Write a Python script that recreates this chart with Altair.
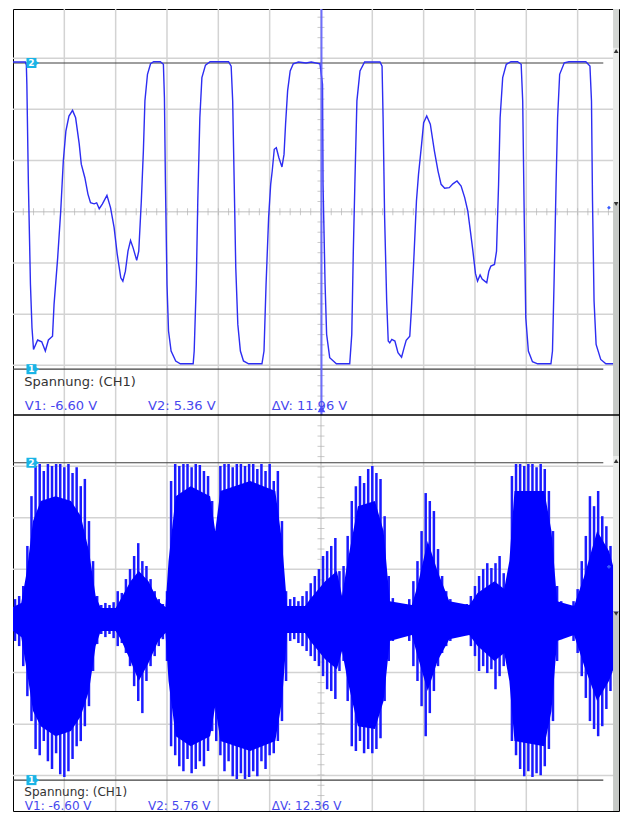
import altair as alt
import pandas as pd

FONT = "DejaVu Sans"
T_MAX = 11.806  # visible divisions across the plot (51.5 px per division)

# ---------------- Raster (divisions / volts) ----------------
GRID_T = [1, 2, 3, 4, 5, 6, 7, 8, 9, 10, 11]
TOP_GRID_V = [5.55, 3.55, 1.55, -0.45, -2.45, -4.45, -6.45]
BOT_GRID_V = [5.62, 3.62, 1.61, -0.40, -2.41, -4.42, -6.42]
TOP_CENTER_V = -0.45
BOT_CENTER_V = -0.40
CENTER_T = 6

# ---------------- Cursor readouts ----------------
TOP_V1, TOP_V2, TOP_DV = -6.60, 5.36, 11.96
BOT_V1, BOT_V2, BOT_DV = -6.60, 5.76, 12.36
CURSOR_T = 6.01

# ---------------- Upper trace (CH1) ----------------
TOP_T = [0.00, 0.24, 0.26, 0.27, 0.30, 0.34, 0.37, 0.40, 0.48, 0.56,
         0.63, 0.69, 0.77, 0.80, 0.87, 0.93, 0.98, 1.03, 1.09, 1.16,
         1.22, 1.29, 1.33, 1.40, 1.46, 1.51, 1.58, 1.63, 1.68, 1.74,
         1.83, 1.90, 1.97, 2.03, 2.10, 2.14, 2.19, 2.24, 2.29, 2.34,
         2.41, 2.45, 2.50, 2.54, 2.57, 2.62, 2.68, 2.74, 2.87, 2.93,
         2.95, 2.97, 3.00, 3.03, 3.08, 3.17, 3.26, 3.51, 3.53, 3.57,
         3.60, 3.64, 3.68, 3.75, 3.84, 4.20, 4.25, 4.28, 4.31, 4.34,
         4.38, 4.43, 4.49, 4.59, 4.85, 4.89, 4.93, 4.98, 5.02, 5.05,
         5.09, 5.13, 5.18, 5.24, 5.28, 5.31, 5.35, 5.40, 5.46, 5.56,
         5.71, 5.81, 5.98, 6.03, 6.04, 6.08, 6.11, 6.17, 6.30, 6.56,
         6.60, 6.63, 6.66, 6.70, 6.76, 6.85, 7.15, 7.19, 7.21, 7.24,
         7.28, 7.31, 7.34, 7.38, 7.44, 7.50, 7.57, 7.62, 7.66, 7.73,
         7.76, 7.81, 7.86, 7.90, 7.96, 8.00, 8.06, 8.13, 8.21, 8.28,
         8.34, 8.41, 8.50, 8.57, 8.65, 8.73, 8.80, 8.86, 8.91, 8.96,
         9.01, 9.05, 9.10, 9.14, 9.19, 9.23, 9.27, 9.31, 9.38, 9.42,
         9.46, 9.49, 9.54, 9.61, 9.70, 9.83, 9.90, 9.93, 9.96, 9.99,
         10.04, 10.12, 10.22, 10.48, 10.51, 10.54, 10.58, 10.61, 10.65, 10.74,
         10.83, 11.16, 11.24, 11.27, 11.29, 11.32, 11.36, 11.45, 11.55, 11.77,
         11.82, 11.83]
TOP_V = [5.40, 5.40, 5.28, 4.53, 0.62, -3.29, -4.98, -5.83, -5.46, -5.53,
         -5.89, -5.46, -5.31, -4.06, -2.26, -0.42, 1.53, 2.70, 3.29, 3.51,
         3.22, 2.20, 1.41, 0.88, 0.24, -0.10, -0.14, -0.10, -0.33, -0.15,
         0.19, -0.29, -1.07, -2.10, -3.03, -3.16, -2.77, -1.99, -1.57, -1.86,
         -2.35, -1.99, -0.03, 1.92, 3.88, 4.92, 5.33, 5.41, 5.41, 5.31,
         4.01, 0.62, -3.29, -5.11, -5.89, -6.28, -6.39, -6.39, -5.89, -3.29,
         -0.03, 3.22, 4.79, 5.28, 5.41, 5.41, 5.24, 3.88, 0.62, -2.64,
         -4.85, -5.89, -6.28, -6.39, -6.39, -5.89, -3.29, -0.68, 0.62, 1.14,
         1.99, 2.05, 1.66, 1.30, 1.79, 2.97, 4.27, 5.05, 5.33, 5.40,
         5.36, 5.40, 5.33, 4.53, 0.62, -3.29, -5.24, -6.15, -6.39, -6.39,
         -5.24, -1.99, 0.62, 3.88, 5.05, 5.40, 5.40, 5.24, 3.22, -0.68,
         -3.94, -5.50, -5.57, -5.44, -5.50, -5.96, -6.13, -5.76, -5.47, -5.31,
         -4.33, -2.25, -0.03, 1.01, 2.18, 3.03, 3.29, 2.97, 1.92, 1.14,
         0.62, 0.47, 0.49, 0.64, 0.75, 0.55, 0.10, -0.42, -1.20, -1.99,
         -2.87, -3.16, -2.92, -3.08, -3.16, -3.22, -2.77, -2.57, -2.51, -1.99,
         0.62, 3.22, 4.79, 5.31, 5.41, 5.41, 5.31, 3.88, -0.68, -4.59,
         -5.89, -6.31, -6.39, -6.39, -5.89, -3.29, 0.62, 3.22, 4.92, 5.37,
         5.41, 5.41, 5.24, 3.88, -0.03, -3.94, -5.63, -6.22, -6.39, -6.39,
         -6.02, -5.70]

# ---------------- Lower trace (CH1): peak samples ----------------
SPIKE_T = [0.04, 0.12, 0.20, 0.28, 0.36, 0.44, 0.52, 0.60, 0.68, 0.76,
           0.84, 0.92, 1.00, 1.08, 1.16, 1.24, 1.32, 1.40, 1.48, 1.56,
           1.64, 1.72, 1.80, 1.88, 1.96, 2.04, 2.12, 2.20, 2.28, 2.36,
           2.44, 2.52, 2.60, 2.68, 2.76, 2.84, 2.92, 3.00, 3.08, 3.16,
           3.24, 3.32, 3.40, 3.48, 3.56, 3.64, 3.72, 3.80, 3.88, 3.96,
           4.04, 4.12, 4.20, 4.28, 4.36, 4.44, 4.52, 4.60, 4.68, 4.76,
           4.84, 4.92, 5.00, 5.08, 5.16, 5.24, 5.32, 5.40, 5.48, 5.56,
           5.64, 5.72, 5.80, 5.88, 5.96, 6.04, 6.12, 6.20, 6.28, 6.36,
           6.44, 6.52, 6.60, 6.68, 6.76, 6.84, 6.92, 7.00, 7.08, 7.16,
           7.24, 7.32, 7.40, 7.48, 7.56, 7.64, 7.72, 7.80, 7.88, 7.96,
           8.04, 8.12, 8.20, 8.28, 8.36, 8.44, 8.52, 8.60, 8.68, 8.76,
           8.84, 8.92, 9.00, 9.08, 9.16, 9.24, 9.32, 9.40, 9.48, 9.56,
           9.64, 9.72, 9.80, 9.88, 9.96, 10.04, 10.12, 10.20, 10.28, 10.36,
           10.44, 10.52, 10.60, 10.68, 10.76, 10.84, 10.92, 11.00, 11.08, 11.16,
           11.24, 11.32, 11.40, 11.48, 11.56, 11.64, 11.72, 11.80]
SPIKE_TOP = [0.45, 0.57, 0.96, 2.52, 4.46, 5.63, 5.71, 5.44, 5.71, 5.63,
             5.71, 5.71, 5.59, 5.71, 5.36, 5.59, 4.85, 5.13, 3.49, 1.93,
             0.57, 0.22, 0.30, 0.22, 0.33, 0.76, 0.69, 1.23, 1.62, 2.13,
             2.63, 1.93, 1.74, 1.23, 0.76, 0.45, 0.26, 0.76, 5.05, 5.71,
             5.63, 5.71, 5.71, 5.59, 5.71, 5.67, 5.44, 5.24, 4.27, 2.52,
             5.63, 5.71, 5.71, 5.59, 5.71, 5.71, 5.63, 5.71, 5.71, 5.52,
             5.71, 5.44, 5.71, 5.05, 5.44, 3.49, 0.76, 0.45, 0.53, 0.37,
             0.57, 0.76, 1.07, 1.35, 1.62, 2.13, 2.32, 2.52, 2.83, 1.54,
             1.74, 2.91, 4.27, 4.85, 5.24, 4.97, 5.52, 5.63, 5.36, 5.13,
             3.68, 1.35, 0.49, 0.30, 0.22, 0.26, 0.45, 1.15, 1.93, 3.10,
             4.58, 4.27, 3.88, 2.40, 1.35, 0.76, 0.45, 0.30, 0.22, 0.18,
             0.26, 0.57, 0.96, 1.35, 1.62, 1.85, 1.66, 1.85, 2.13, 1.46,
             0.76, 5.24, 5.71, 5.71, 5.63, 5.71, 5.71, 5.59, 5.71, 5.52,
             4.66, 3.10, 0.96, 0.37, 0.26, 0.22, 0.37, 0.84, 1.93, 2.91,
             4.46, 4.07, 4.66, 3.68, 3.29, 2.52, 1.93, 0.96]
SPIKE_BOT = [-1.18, -1.38, -2.16, -3.33, -4.30, -5.39, -5.63, -5.08, -5.86, -6.17,
             -5.55, -6.37, -6.48, -6.25, -5.78, -5.28, -5.08, -4.50, -3.72, -2.35,
             -1.30, -0.91, -1.03, -0.91, -1.07, -1.38, -1.26, -1.65, -2.16, -2.94,
             -3.52, -3.99, -2.74, -2.16, -1.77, -1.38, -1.11, -1.96, -5.28, -5.63,
             -6.06, -6.25, -5.78, -6.33, -6.17, -5.86, -6.06, -5.47, -4.69, -5.08,
             -5.63, -6.25, -5.86, -6.45, -6.56, -6.33, -6.56, -6.48, -6.25, -6.45,
             -5.86, -6.17, -5.63, -5.55, -5.08, -4.30, -2.74, -1.18, -1.11, -1.26,
             -1.38, -1.57, -1.77, -1.96, -2.16, -2.55, -3.06, -3.13, -3.44, -2.35,
             -1.96, -3.52, -5.28, -5.47, -5.08, -5.55, -5.39, -5.55, -5.39, -4.97,
             -3.52, -1.96, -1.18, -1.03, -0.91, -0.99, -1.18, -2.16, -2.74, -3.72,
             -4.89, -3.99, -3.13, -2.16, -1.65, -1.38, -1.18, -1.03, -0.91, -0.87,
             -0.95, -1.38, -1.77, -2.35, -2.16, -2.43, -2.28, -3.06, -2.55, -2.16,
             -1.77, -5.08, -5.63, -6.17, -6.45, -6.25, -6.48, -6.33, -6.41, -6.06,
             -5.39, -4.30, -1.96, -1.11, -0.95, -0.91, -1.18, -1.65, -2.55, -3.40,
             -4.30, -4.61, -4.89, -4.50, -3.83, -3.13, -2.94, -1.96]

# ---------------- Lower trace: dense core envelope ----------------
CORE_T = [0.00, 0.16, 0.27, 0.39, 0.54, 0.83, 1.13, 1.32, 1.48, 1.61,
          1.71, 2.00, 2.10, 2.29, 2.45, 2.64, 2.83, 2.97, 3.03, 3.17,
          3.46, 3.84, 3.94, 4.04, 4.62, 5.11, 5.24, 5.34, 5.69, 5.79,
          6.08, 6.31, 6.41, 6.52, 6.72, 7.05, 7.22, 7.34, 7.77, 7.88,
          8.08, 8.27, 8.50, 8.89, 9.05, 9.38, 9.57, 9.67, 9.77, 10.35,
          10.49, 10.60, 10.93, 11.13, 11.38, 11.61, 11.83]
CORE_TOP = [0.14, 0.30, 1.54, 3.49, 4.27, 4.46, 4.27, 3.69, 2.32, 0.57,
            0.10, 0.10, 0.45, 1.15, 1.54, 1.15, 0.37, 0.14, 1.93, 4.46,
            4.85, 4.46, 3.10, 4.66, 5.05, 4.66, 2.71, 0.18, 0.18, 0.45,
            1.15, 1.54, 0.57, 1.93, 4.07, 4.27, 3.10, 0.37, 0.22, 0.96,
            2.71, 1.54, 0.37, 0.22, 0.69, 1.15, 0.84, 1.93, 4.66, 4.66,
            3.10, 0.37, 0.18, 1.35, 3.10, 2.32, 0.76]
CORE_BOT = [-0.79, -1.03, -2.35, -3.91, -4.50, -4.89, -4.69, -4.11, -3.13, -1.38,
            -0.79, -0.79, -1.11, -1.96, -2.74, -2.04, -1.18, -0.87, -2.74, -4.89,
            -5.28, -4.89, -3.72, -5.08, -5.47, -5.08, -3.52, -0.87, -0.87, -1.18,
            -1.89, -2.28, -1.57, -2.74, -4.50, -4.61, -3.52, -1.18, -0.95, -1.77,
            -3.13, -1.96, -1.11, -0.95, -1.38, -1.96, -1.65, -2.74, -5.08, -5.28,
            -3.91, -1.18, -0.95, -2.16, -3.52, -2.74, -1.57]

# ---------------- styling ----------------
GRID_C = "#d3d3d3"
TICK_C = "#b4b4b4"
TRACE_C = "#2d2df2"
TEXT_BLUE = "#4747ee"
TAG_C = "#19b4e6"

SCROLL_T0 = 11.69   # right-hand scroll strip
ARROW_T = 11.75
TRIG_T = 11.61

PLOT_W = 608
TOP_H = 406
TOTAL_H = 804

TOP_DOM = [-8.39, 7.47]
BOT_DOM = [-7.88, 7.62]
X = alt.Scale(domain=[0, T_MAX], nice=False, zero=False)
TOP_Y = alt.Scale(domain=TOP_DOM, range=[TOP_H, 0], nice=False, zero=False)
BOT_Y = alt.Scale(domain=BOT_DOM, range=[TOTAL_H, TOP_H], nice=False, zero=False)

MINOR_T = [round(0.2 * i, 2) for i in range(1, 59)]


def xq(f):
    return alt.X(f, type="quantitative", scale=X, axis=None)


def yq(f, ys):
    return alt.Y(f, type="quantitative", scale=ys, axis=None)


def frame_layers(ys, dom, grid_v, center_v, v1, v2):
    layers = []
    layers.append(alt.Chart(pd.DataFrame({"v": grid_v})).mark_rule(
        color=GRID_C, strokeWidth=1.5).encode(y=yq("v", ys)))
    layers.append(alt.Chart(pd.DataFrame({"t": MINOR_T, "v": [center_v] * len(MINOR_T)})).mark_tick(
        orient="vertical", size=7, thickness=1, color=TICK_C, clip=True).encode(x=xq("t"), y=yq("v", ys)))
    vt = [round(center_v + 0.4 * k, 2) for k in range(-20, 21)
          if k != 0 and dom[0] + 0.2 < center_v + 0.4 * k < dom[1] - 0.2]
    layers.append(alt.Chart(pd.DataFrame({"t": [CENTER_T] * len(vt), "v": vt})).mark_tick(
        orient="horizontal", size=7, thickness=1, color=TICK_C, clip=True).encode(x=xq("t"), y=yq("v", ys)))
    layers.append(alt.Chart(pd.DataFrame({"t0": [0, 0], "t1": [11.5, 11.5], "v": [v2, v1]})).mark_rule(
        color="#3f3f3f", strokeWidth=1.2).encode(x=xq("t0"), x2="t1", y=yq("v", ys)))
    return layers


def overlay_layers(ys, v1, v2, texts, font_size, scroll_v, arrows_v):
    layers = []
    tags = pd.DataFrame({"t": [0.36, 0.36], "ta": [0.46, 0.46], "v": [v2, v1], "lab": ["2", "1"]})
    layers.append(alt.Chart(tags).mark_point(shape="triangle-right", filled=True, size=45,
                                             color=TAG_C, opacity=1).encode(x=xq("ta"), y=yq("v", ys)))
    layers.append(alt.Chart(tags).mark_point(shape="square", filled=True, size=100,
                                             color=TAG_C, opacity=1).encode(x=xq("t"), y=yq("v", ys)))
    layers.append(alt.Chart(tags).mark_text(color="white", fontSize=9, fontWeight="bold", font=FONT,
                                            align="center", baseline="middle").encode(
        x=xq("t"), y=yq("v", ys), text="lab:N"))
    tx = pd.DataFrame(texts, columns=["t", "v", "s", "c"])
    layers.append(alt.Chart(tx).mark_text(fontSize=font_size, font=FONT, align="left",
                                          baseline="alphabetic").encode(
        x=xq("t"), y=yq("v", ys), text="s:N", color=alt.Color("c:N", scale=None)))
    sc = pd.DataFrame(scroll_v, columns=["v0", "v1", "c"])
    sc["t0"] = SCROLL_T0
    sc["t1"] = T_MAX
    layers.append(alt.Chart(sc).mark_rect(clip=True).encode(
        x=xq("t0"), x2="t1", y=yq("v0", ys), y2="v1", color=alt.Color("c:N", scale=None)))
    ar = pd.DataFrame(arrows_v, columns=["v", "shape"])
    ar["t"] = ARROW_T
    layers.append(alt.Chart(ar).mark_point(filled=True, size=22, color="#333333", opacity=1).encode(
        x=xq("t"), y=yq("v", ys), shape=alt.Shape("shape:N", scale=None)))
    return layers


# ---------------- upper panel ----------------
top_layers = [alt.Chart(pd.DataFrame({"t": GRID_T})).mark_rule(
    color=GRID_C, strokeWidth=1.5).encode(x=xq("t"))]
top_layers += frame_layers(TOP_Y, TOP_DOM, TOP_GRID_V, TOP_CENTER_V, TOP_V1, TOP_V2)
top_df = pd.DataFrame({"t": TOP_T, "v": TOP_V, "i": range(len(TOP_T))})
top_layers.append(alt.Chart(top_df).mark_line(color=TRACE_C, strokeWidth=1.4, clip=True).encode(
    x=xq("t"), y=yq("v", TOP_Y), order="i:Q"))
top_layers.append(alt.Chart(pd.DataFrame({"t": [CURSOR_T], "v0": [TOP_DOM[1]], "v1": [TOP_DOM[0]]})).mark_rule(
    color="#5a5aff", strokeWidth=2, opacity=0.85).encode(x=xq("t"), y=yq("v0", TOP_Y), y2="v1"))
top_layers.append(alt.Chart(pd.DataFrame({"t": [CURSOR_T], "v": [-8.15]})).mark_point(
    shape="triangle-up", filled=True, size=60, color="#4d4dff", opacity=1).encode(x=xq("t"), y=yq("v", TOP_Y)))
top_layers.append(alt.Chart(pd.DataFrame({"t": [TRIG_T], "v": [-0.29]})).mark_point(
    shape="diamond", filled=True, size=14, color="#3a5cff", opacity=1).encode(x=xq("t"), y=yq("v", TOP_Y)))
top_texts = [
    (0.22, -7.26, "Spannung: (CH1)", "#333333"),
    (0.23, -8.20, "V1: -6.60 V", TEXT_BLUE),
    (2.63, -8.20, "V2: 5.36 V", TEXT_BLUE),
    (5.04, -8.20, "ΔV: 11.96 V", TEXT_BLUE),
]
top_scroll = [(7.47, 5.95, "#d3d6d3"), (5.95, -0.11, "#e9ebe9"), (-0.11, -8.39, "#c6c9c6")]
top_arrows = [(5.83, "triangle-up"), (-0.15, "triangle-down")]
top_layers += overlay_layers(TOP_Y, TOP_V1, TOP_V2, top_texts, 13, top_scroll, top_arrows)
top = alt.layer(*top_layers)

# ---------------- lower panel ----------------
bot_layers = frame_layers(BOT_Y, BOT_DOM, BOT_GRID_V, BOT_CENTER_V, BOT_V1, BOT_V2)
core_df = pd.DataFrame({"t": CORE_T, "hi": CORE_TOP, "lo": CORE_BOT})
spk_df = pd.DataFrame({"t": SPIKE_T, "hi": SPIKE_TOP, "lo": SPIKE_BOT})
bot_layers.append(alt.Chart(spk_df).mark_rule(color="#1a1aff", strokeWidth=2.5, clip=True).encode(
    x=xq("t"), y=yq("hi", BOT_Y), y2="lo"))
bot_layers.append(alt.Chart(core_df).mark_area(color="#0000ff", opacity=1, clip=True).encode(
    x=xq("t"), y=yq("hi", BOT_Y), y2="lo"))
bot_layers.append(alt.Chart(pd.DataFrame({"t": [TRIG_T], "v": [1.71]})).mark_point(
    shape="cross", filled=True, size=14, color="#3a5cff", opacity=1).encode(x=xq("t"), y=yq("v", BOT_Y)))
bot_texts = [
    (0.22, -7.22, "Spannung: (CH1)", "#333333"),
    (0.23, -7.77, "V1: -6.60 V", TEXT_BLUE),
    (2.63, -7.77, "V2: 5.76 V", TEXT_BLUE),
    (5.04, -7.77, "ΔV: 12.36 V", TEXT_BLUE),
]
bot_scroll = [(7.62, 6.02, "#d3d6d3"), (6.02, -0.02, "#e9ebe9"), (-0.02, -7.88, "#c6c9c6")]
bot_arrows = [(5.83, "triangle-up"), (-0.12, "triangle-down")]
bot_layers += overlay_layers(BOT_Y, BOT_V1, BOT_V2, bot_texts, 12, bot_scroll, bot_arrows)
# separator between the two screens
bot_layers.append(alt.Chart(pd.DataFrame({"v": [BOT_DOM[1]]})).mark_rule(
    color="#000000", strokeWidth=1.5).encode(y=yq("v", BOT_Y)))
bottom = alt.layer(*bot_layers)

chart = alt.layer(top, bottom).resolve_scale(y="independent").properties(
    width=PLOT_W + 4,
    height=TOTAL_H,
    autosize=alt.AutoSizeParams(type="fit", contains="padding"),
    padding={"left": 4, "top": 0, "right": 0, "bottom": 0},
    background="white",
).configure_view(stroke="#000000", strokeWidth=1)

chart.save("out.html", embed_options={"renderer": "svg", "actions": False})
